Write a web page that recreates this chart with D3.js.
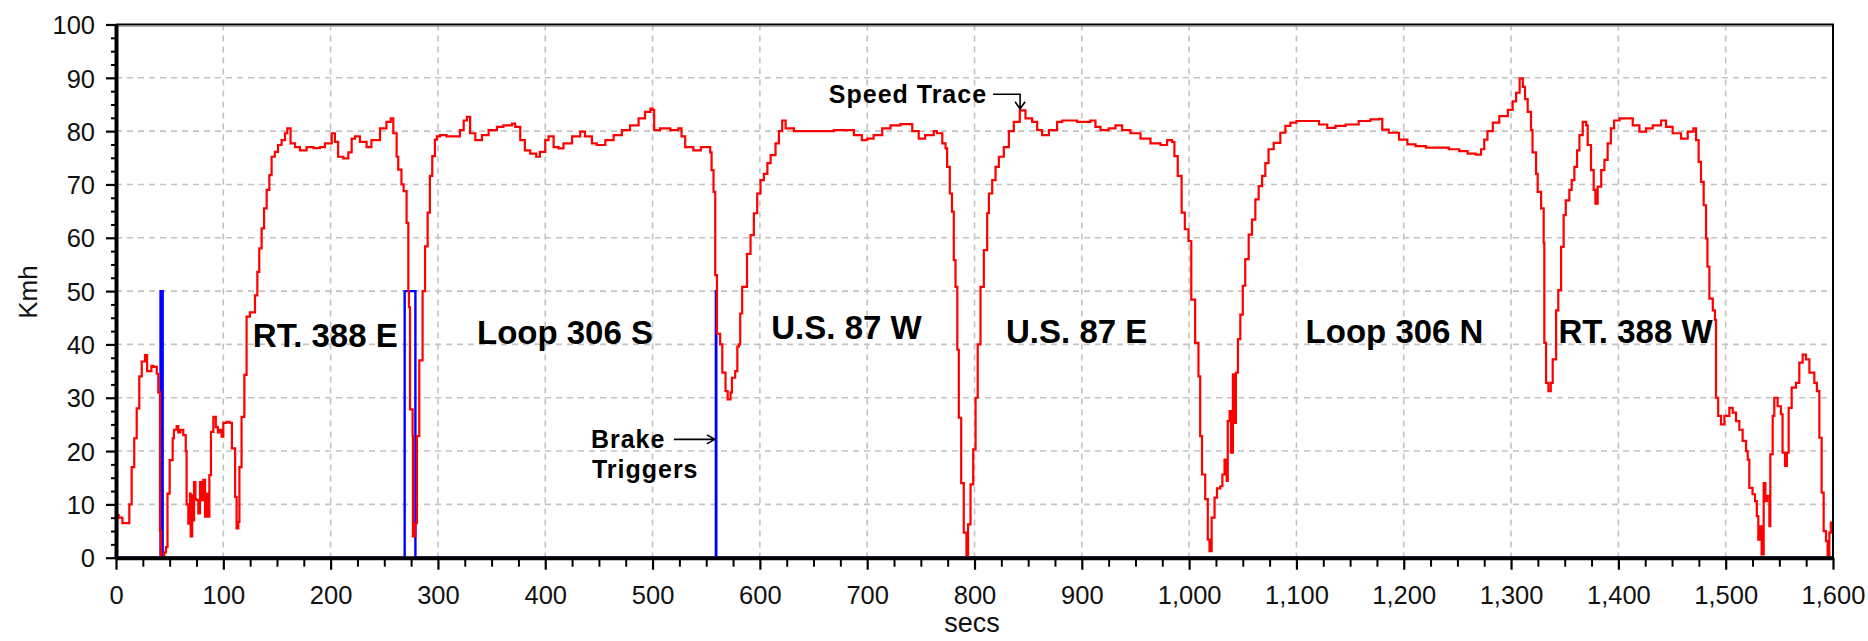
<!DOCTYPE html>
<html>
<head>
<meta charset="utf-8">
<script src="https://cdn.jsdelivr.net/npm/d3@7"></script>
<style>
  html, body { margin: 0; padding: 0; background: #fff; }
  svg { display: block; }
</style>
</head>
<body>
<svg id="chart" width="1868" height="641"></svg>
<script>
// Vehicle speed trace (seconds, km/h)
const timeSecs = [
  0, 1, 2.5, 6, 11, 12.4, 14.6, 17, 19.3, 21.7, 24, 27, 29, 33, 35, 38, 39.4, 41, 42, 45, 46.6, 48, 50,
  52.8, 54, 56.5, 58, 60, 62.7, 65, 65.8, 67.4, 69, 69.6, 71, 72, 72.7, 74, 75, 76.7, 78.3, 80, 81.4,
  83, 84.5, 86, 87, 88.5, 90.7, 93, 95, 97, 98.4, 100, 103, 106, 108, 111, 112.4, 114, 115, 117,
  119.6, 121.7, 124.8, 129.5, 131.7, 133.5, 135.7, 138, 140.4, 142.9, 145, 148, 151, 154.3, 157.5,
  159.6, 162.7, 166.8, 171.4, 177.6, 184, 190, 194.7, 201, 204, 207, 211.8, 216.5, 219.6, 222.7,
  227.3, 233.5, 238, 246, 252, 256, 258.4, 261.5, 263, 266, 268, 270.8, 272.4, 273, 274, 276.4,
  276.7, 279, 280.4, 282.6, 285.7, 288, 290.4, 292.5, 294.7, 297.2, 299, 302, 308, 316, 320.5, 324,
  327, 330, 334.8, 341, 347.2, 355, 361, 369, 372, 376.7, 381, 386, 391.6, 395, 400, 403, 407.8,
  412.4, 417, 425, 432.6, 437, 443.5, 448, 456, 463.7, 471.4, 479, 487, 493, 498, 500, 501.5, 507,
  516.5, 524, 527, 530.4, 538, 545, 550.6, 553.7, 555, 556.8, 558.4, 560, 563, 565, 568, 570, 572.7,
  574, 577, 579, 580.4, 581.7, 583.5, 588, 591.3, 594.4, 597.5, 600.6, 603.7, 607, 610, 614.6, 617.7,
  620.8, 624, 631.7, 640, 653, 669, 681, 687.6, 695, 700, 706, 714, 721.7, 731, 739, 742, 748, 754,
  762, 765, 770, 773, 774.5, 777, 779, 780.7, 782.3, 784, 785.4, 787.6, 790, 792.5, 794, 796.3, 798.8,
  801, 803, 805.6, 808.7, 811.8, 813.4, 816.5, 819.6, 822.7, 827.3, 832, 836.6, 842.2, 847.5, 853.7,
  858.4, 863, 869.3, 877, 881.7, 895.7, 908, 912.7, 917.4, 925, 931.4, 937.6, 945.3, 954.7, 964,
  973.3, 979.5, 984, 986.3, 989.4, 993, 996, 999.4, 1002, 1005.6, 1008.7, 1010.3, 1012, 1015, 1017.4,
  1019, 1021, 1023.7, 1026, 1029, 1031, 1033, 1035, 1036, 1037.7, 1039, 1040.8, 1042, 1043.6, 1045.5,
  1047.7, 1050, 1052.3, 1055.5, 1058.6, 1061.7, 1064.8, 1068, 1071, 1074, 1078.8, 1085, 1089.7,
  1094.4, 1100, 1116, 1121, 1128.7, 1136.4, 1145.8, 1158, 1169, 1177, 1180, 1186, 1195.6, 1203.4,
  1211, 1220.6, 1233, 1242, 1251.7, 1259.5, 1267, 1272, 1275, 1278, 1283, 1289, 1297, 1301.5, 1304.7,
  1308, 1311, 1313, 1315.5, 1318.6, 1320, 1323.3, 1324.8, 1328, 1330.4, 1331, 1332.6, 1334.8, 1337,
  1338.8, 1342, 1344, 1346.6, 1349, 1351, 1354.3, 1356.5, 1359, 1361.5, 1363.7, 1366.8, 1370, 1371.4,
  1374.5, 1377, 1378.6, 1380.7, 1384, 1387, 1390, 1393, 1396, 1401, 1408.7, 1413.4, 1419.6, 1425.8,
  1432, 1439.8, 1444.4, 1450.6, 1458.4, 1464.6, 1470, 1472.4, 1474.8, 1477, 1479.5, 1481.7, 1483,
  1484.8, 1488, 1490, 1491, 1493, 1495.6, 1498.8, 1503.4, 1506.5, 1509.6, 1512.7, 1515.8, 1519,
  1520.5, 1522, 1525, 1527.3, 1529, 1530.4, 1532.3, 1533.5, 1535.4, 1537, 1538.5, 1540.7, 1541.6,
  1543.8, 1545.3, 1548.4, 1551.5, 1553, 1555.3, 1557, 1558.7, 1561.5, 1565.5, 1568.6, 1571.7, 1574.8,
  1578, 1582.6, 1585, 1587.3, 1589.4, 1591.3, 1593.5, 1595, 1596.6, 1598, 1600
];
const speedKmh = [
  4, 8, 7.5, 6.5, 6.5, 10, 17, 22.4, 28, 34, 36.8, 38, 35, 36, 35.8, 34.5, 31, 5, 0, 1, 2, 12, 18.3,
  22.4, 24, 24.7, 23.5, 24, 23, 20, 10, 6.4, 12, 4, 11.7, 7, 14.2, 11, 10.8, 8.3, 14.2, 10.8, 14.6,
  7.7, 12, 7.7, 15.5, 23.6, 26.4, 24.5, 23.5, 24, 22.7, 25.3, 25.5, 25.3, 20.5, 11.4, 5.5, 6.7, 17, 26.4,
  34.3, 45.2, 46, 49.2, 53.6, 58, 61.75, 65.5, 69, 71.75, 75.2, 76.1, 77.4, 78.3, 79.6,
  80.5, 77.7, 77, 76.4, 77, 76.8, 77, 77.7, 79.6, 78, 75.2, 74.9, 76, 78.6, 79,
  78, 77, 78.3, 80.5, 81.75, 82.4, 79.6, 75.2, 72.8, 70, 68.75, 62.8, 50, 47, 27.8, 22.8,
  4, 6.5, 22.8, 37, 50, 58.4, 64.7, 71.6, 75.3, 78.4, 79, 79.25, 79, 79, 80.2, 82,
  82.7, 79.6, 78.3, 79.25, 80.2, 80.8, 81.1, 81.4, 80.8, 78.3, 76.4, 75.8, 75.2, 76.1, 78.3, 79, 77,
  76.75, 77.7, 79, 79.9, 79, 77.7, 77.4, 78.3, 79.25, 80.2, 81.1, 82.4, 83.6, 84.25, 84, 80.2, 80.5,
  80.2, 80.5, 79, 77, 76.4, 77, 77, 76, 72.7, 68.6, 53, 42, 40, 34.7, 31.25, 29.7, 31,
  33.75, 35, 39.6, 40, 45.8, 50.8, 57, 60.5, 64.6, 68.3, 70.8, 72, 74, 75.5, 77.7, 80,
  82, 80.5, 80, 80, 80, 80.2, 80.2, 79.25, 78.3, 78.6, 79.25, 80.5, 81.1, 81.3, 81.3, 80, 78.6, 79.25,
  80, 79.6, 77.7, 76.75, 73.3, 68.3, 64.9, 55.8, 50.8, 39, 26.25, 14, 4.7, 0.5, 6.25, 13.75, 20.3,
  30, 40, 50.8, 57.7, 64.6, 68.3, 70.8, 73.3, 75.2, 77, 80, 81.75, 83.9, 82.4, 81.75,
  80.2, 79.25, 80.2, 81.75, 82, 81.75, 82, 80.8, 80.2, 80.5, 81.1, 80.2, 79.6, 78.6, 77.7,
  77.4, 78.3, 78, 75.3, 71.6, 64.7, 61.6, 59.4, 48.4, 40.3, 34, 22.8, 15.6, 11, 3.4,
  1.25, 7.5, 11.25, 13, 13.4, 15.6, 18.4, 14.4, 25.6, 27.5, 19.7, 34.4, 25.3, 34.7, 41,
  45.6, 51, 56, 60.6, 63.4, 67.2, 69.7, 71.6, 74, 76.6, 77.8, 79.7, 81,
  81.6, 81.9, 81.9, 81.25, 80.6, 81, 81.25, 81.9, 82.2, 82.3, 80.3, 79.7, 78.4, 77.5,
  77.2, 76.9, 76.9, 76.6, 76.25, 75.8, 75.6, 76.6, 78.4, 80, 81.6, 82.8, 84, 85.6, 87.2,
  89.9, 88.3, 86, 83.6, 80.2, 76, 72, 68.6, 65.5, 59, 40.3, 32.8, 31.25, 32.8,
  37.2, 46.4, 50.2, 58.3, 64.25, 67, 69, 70.8, 73.3, 76.4, 79.25, 81.75, 81.1, 77.4,
  72.7, 69, 66.4, 69.6, 72.7, 74.6, 77.7, 80.5, 82, 82.4, 82.4, 81.1, 79.9, 80.5,
  81.1, 82, 80.8, 79.6, 78.6, 79.9, 80.5, 78.3, 74.25, 70.5, 66.1, 59.9, 54.6,
  48.6, 46.4, 44.6, 30, 26.6, 25, 26.6, 28.1, 27.2, 25.6, 24, 21.9, 20,
  18.4, 13.1, 11.9, 10.6, 7.8, 3.4, 5.9, 0.6, 14, 10.6, 11.6, 5.9, 19.4,
  26.6, 30, 28.4, 26.9, 19.7, 17.2, 19.7, 28.1, 31.9, 32.8, 36.6, 38.1, 37.2,
  34.7, 32.8, 31.25, 22.5, 12.2, 5, 3.1, 0.5, 4.7, 6.6, 6.6
];

// Brake trigger signal (0 = off, 50 = on)
const brakeSecs  = [0, 41.5, 43.5, 269, 279, 559, 559.4, 1600];
const brakeLevel = [0, 50,   0,    50,  0,   50,  0,     0];

// Axis ticks
const xTickValues = d3.range(0, 1601, 100);
const xMinorTicks = d3.range(0, 1601, 25).filter(v => v % 100 !== 0);
const yTickValues = d3.range(0, 101, 10);
const yMinorTicks = d3.range(0, 100.1, 2.5).filter(v => v % 10 !== 0);

// Road segment names
const routeNames = ["RT. 388 E", "Loop 306 S", "U.S. 87 W", "U.S. 87 E", "Loop 306 N", "RT. 388 W"];

const svg = d3.select("#chart");
const x = d3.scaleLinear().domain([0, 1600]).range([116, 1833]);
const y = d3.scaleLinear().domain([0, 100]).range([557.7, 24.5]);

const axisFont = "'Liberation Sans', Arial, sans-serif";

// Dashed grid
const grid = svg.append("g")
  .attr("stroke", "#c3c3c3")
  .attr("stroke-width", 1.6)
  .attr("stroke-dasharray", "6,5");
grid.selectAll("line.v")
  .data(xTickValues.filter(v => v > 0 && v < 1600))
  .join("line")
  .attr("x1", d => x(d)).attr("x2", d => x(d))
  .attr("y1", y(100)).attr("y2", y(0));
grid.selectAll("line.h")
  .data(yTickValues.filter(v => v > 0 && v < 100))
  .join("line")
  .attr("x1", x(0)).attr("x2", x(1600))
  .attr("y1", d => y(d)).attr("y2", d => y(d));

// Brake trigger trace
const brakeLine = d3.line()
  .x(i => x(brakeSecs[i]))
  .y(i => y(brakeLevel[i]))
  .curve(d3.curveStepAfter);
svg.append("path")
  .attr("d", brakeLine(d3.range(brakeSecs.length)))
  .attr("fill", "none")
  .attr("stroke", "#0000ff")
  .attr("stroke-width", 2.4);

// Speed trace
const speedLine = d3.line()
  .x(i => x(timeSecs[i]))
  .y(i => y(speedKmh[i]))
  .curve(d3.curveStepAfter);
svg.append("path")
  .attr("d", speedLine(d3.range(timeSecs.length)))
  .attr("fill", "none")
  .attr("stroke", "#ff0000")
  .attr("stroke-width", 2.2)
  .attr("stroke-linejoin", "miter");

// Plot frame (top and right)
svg.append("line")
  .attr("x1", x(0)).attr("x2", x(1600) + 1)
  .attr("y1", y(100)).attr("y2", y(100))
  .attr("stroke", "#000").attr("stroke-width", 2);
svg.append("line")
  .attr("x1", x(0)).attr("x2", x(1600))
  .attr("y1", y(100) + 1.8).attr("y2", y(100) + 1.8)
  .attr("stroke", "#9a9a9a").attr("stroke-width", 1);
svg.append("line")
  .attr("x1", x(1600)).attr("x2", x(1600))
  .attr("y1", y(100)).attr("y2", y(0))
  .attr("stroke", "#000").attr("stroke-width", 2);

// Minor ticks
svg.append("g")
  .attr("transform", `translate(0,${y(0)})`)
  .call(d3.axisBottom(x).tickValues(xMinorTicks).tickSize(9).tickFormat(""))
  .call(g => g.select(".domain").remove())
  .call(g => g.selectAll(".tick line").attr("stroke", "#000").attr("stroke-width", 2));
svg.append("g")
  .attr("transform", `translate(${x(0)},0)`)
  .call(d3.axisLeft(y).tickValues(yMinorTicks).tickSize(5).tickFormat(""))
  .call(g => g.select(".domain").remove())
  .call(g => g.selectAll(".tick line").attr("stroke", "#000").attr("stroke-width", 2));

// Main axes
svg.append("g")
  .attr("transform", `translate(0,${y(0)})`)
  .call(d3.axisBottom(x).tickValues(xTickValues).tickFormat(d3.format(","))
    .tickSize(12).tickSizeOuter(0).tickPadding(16))
  .call(g => g.select(".domain").attr("stroke", "#000").attr("stroke-width", 4))
  .call(g => g.selectAll(".tick line").attr("stroke", "#000").attr("stroke-width", 2.2))
  .call(g => g.selectAll(".tick text")
    .attr("fill", "#111")
    .attr("font-family", axisFont)
    .attr("font-size", "25.5px"));

svg.append("g")
  .attr("transform", `translate(${x(0)},0)`)
  .call(d3.axisLeft(y).tickValues(yTickValues)
    .tickSize(10).tickSizeOuter(0).tickPadding(11))
  .call(g => g.select(".domain").attr("stroke", "#000").attr("stroke-width", 4))
  .call(g => g.selectAll(".tick line").attr("stroke", "#000").attr("stroke-width", 2.2))
  .call(g => g.selectAll(".tick text")
    .attr("fill", "#111")
    .attr("dy", "0.36em")
    .attr("font-family", axisFont)
    .attr("font-size", "25.5px"));

// Axis titles
svg.append("text")
  .attr("transform", "translate(37,292) rotate(-90)")
  .attr("text-anchor", "middle")
  .attr("font-family", axisFont)
  .attr("font-size", "26px")
  .attr("fill", "#111")
  .text("Kmh");
svg.append("text")
  .attr("x", 972).attr("y", 632)
  .attr("text-anchor", "middle")
  .attr("font-family", axisFont)
  .attr("font-size", "27px")
  .attr("fill", "#111")
  .text("secs");

// Road segment labels, placed in data space (secs, km/h)
const routeLabelAt = [[195, 39.5], [418.4, 40.1], [680.7, 41], [895.2, 40.2], [1191.4, 40.2], [1416, 40.2]];
svg.append("g")
  .attr("font-family", axisFont)
  .attr("font-weight", "bold")
  .attr("font-size", "33px")
  .attr("fill", "#000")
  .attr("text-anchor", "middle")
  .selectAll("text")
  .data(routeNames)
  .join("text")
  .attr("x", (d, i) => x(routeLabelAt[i][0]))
  .attr("y", (d, i) => y(routeLabelAt[i][1]))
  .text(d => d);

// Annotation: speed trace
const note = svg.append("g")
  .attr("font-family", axisFont)
  .attr("font-weight", "bold")
  .attr("font-size", "25px")
  .attr("letter-spacing", "1px")
  .attr("fill", "#000");
const spTip = [x(842.5), y(84)];
note.append("text")
  .attr("x", spTip[0] - 33).attr("y", spTip[1] - 6.5)
  .attr("text-anchor", "end")
  .text("Speed Trace");
note.append("path")
  .attr("d", `M${spTip[0] - 27},${spTip[1] - 15.5}H${spTip[0]}V${spTip[1] - 1}` +
             `M${spTip[0] - 5},${spTip[1] - 8}L${spTip[0]},${spTip[1] - 1}L${spTip[0] + 5},${spTip[1] - 8}`)
  .attr("fill", "none").attr("stroke", "#000").attr("stroke-width", 1.6);

// Annotation: brake triggers
const brTip = [x(559) - 1, y(22.2)];
note.append("text")
  .attr("x", brTip[0] - 124).attr("y", brTip[1] + 9)
  .text("Brake");
note.append("text")
  .attr("x", brTip[0] - 123).attr("y", brTip[1] + 38.7)
  .text("Triggers");
note.append("path")
  .attr("d", `M${brTip[0] - 41},${brTip[1]}H${brTip[0]}` +
             `M${brTip[0] - 8},${brTip[1] - 4.5}L${brTip[0]},${brTip[1]}L${brTip[0] - 8},${brTip[1] + 4.5}`)
  .attr("fill", "none").attr("stroke", "#000").attr("stroke-width", 1.6);
</script>
</body>
</html>
